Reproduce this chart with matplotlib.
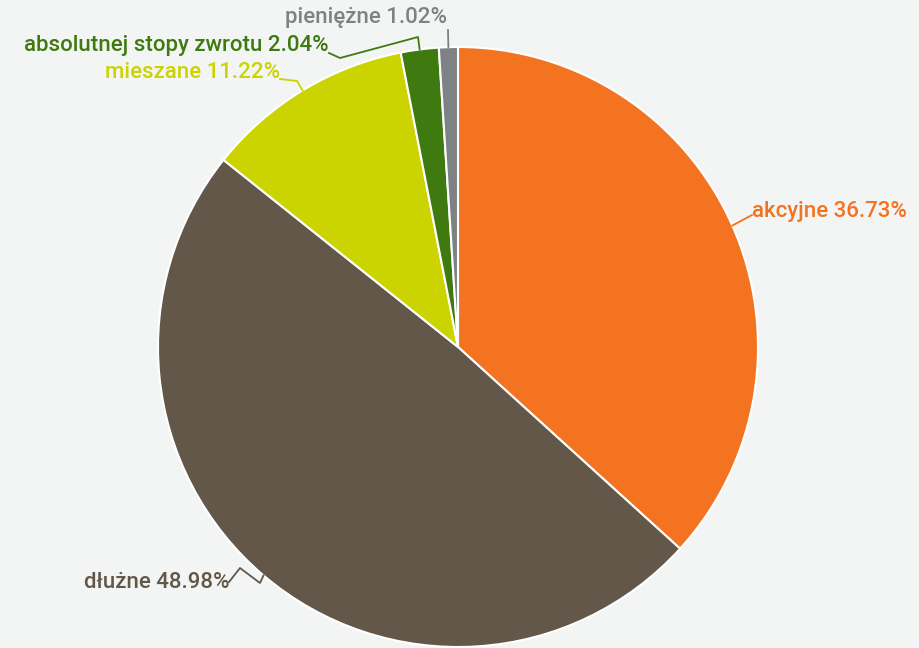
import numpy as np
import matplotlib.pyplot as plt

labels = ['akcyjne', 'dłużne', 'mieszane', 'absolutnej stopy zwrotu', 'pieniężne']
shares = [36.73, 48.98, 11.22, 2.04, 1.02]
colors = ['#f47321', '#63574a', '#cbd400', '#3f7a10', '#7f8284']

# label text anchors and leader elbows, in pixels of the 920x648 picture
text_px = [(752, 212, 'left'), (229, 582, 'right'), (280, 72, 'right'),
           (329, 46, 'right'), (447, 18, 'right')]
elbows_px = [[(752, 215)],
             [(260, 583), (240, 568), (229, 582)],
             [(297, 81), (280, 79)],
             [(418, 37), (340, 58), (329, 53)],
             [(448, 30)]]

CX, CY, R = 458, 347, 300


def to_data(px, py):
    return (px - CX) / R, (CY - py) / R


fig = plt.figure(figsize=(9.2, 6.48), dpi=100)
fig.patch.set_facecolor('#f3f5f5')
ax = fig.add_axes([(CX - R) / 920, (648 - CY - R) / 648, 2 * R / 920, 2 * R / 648])
ax.set_facecolor('#f3f5f5')

wedges, _ = ax.pie(shares, colors=colors, startangle=90, counterclock=False,
                   radius=1, wedgeprops=dict(edgecolor='white', linewidth=1.5))
ax.set_xlim(-1, 1)
ax.set_ylim(-1, 1)
ax.set_aspect('equal')
ax.axis('off')

for w, lab, val, col, (tx, ty, ha), elb in zip(wedges, labels, shares, colors, text_px, elbows_px):
    mid = np.deg2rad((w.theta1 + w.theta2) / 2)
    pts = [(np.cos(mid), np.sin(mid))] + [to_data(*p) for p in elb]
    xs, ys = zip(*pts)
    ax.plot(xs, ys, color=col, lw=1.3, clip_on=False)
    x, y = to_data(tx, ty)
    ax.text(x, y, f'{lab} {val:.2f}%', color=col, ha=ha, va='center',
            fontsize=16, fontfamily='Roboto', fontweight='medium', clip_on=False)

fig.savefig('out.png', dpi=100, facecolor=fig.get_facecolor())
